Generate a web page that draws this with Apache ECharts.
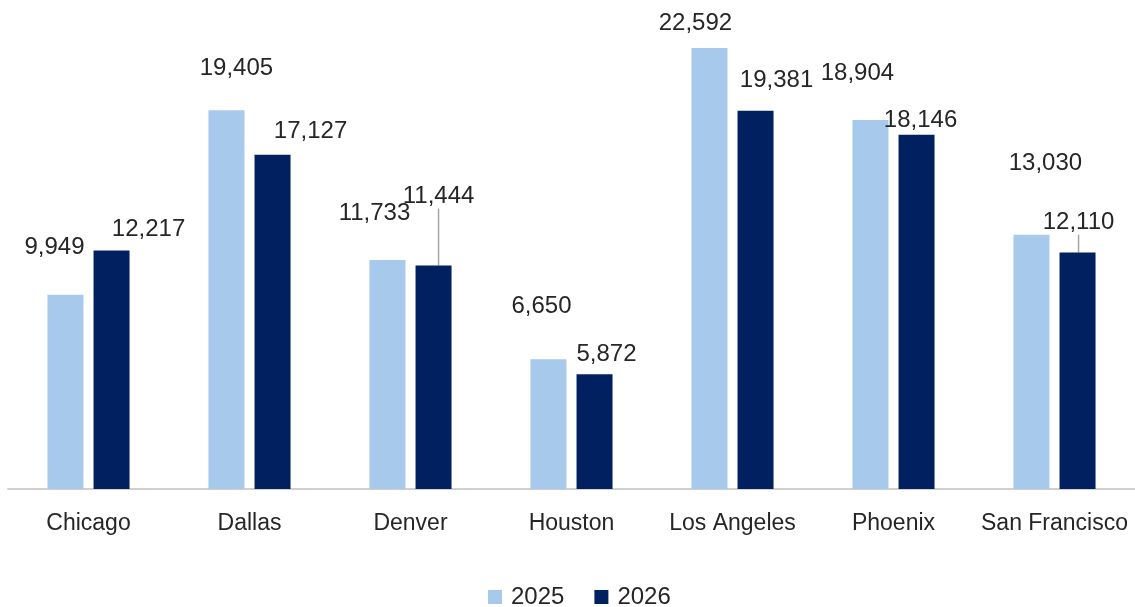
<!DOCTYPE html>
<html>
<head>
<meta charset="utf-8">
<script src="https://cdn.jsdelivr.net/npm/echarts@6/dist/echarts.min.js"></script>
<style>
  html, body { margin: 0; padding: 0; background: #fff; }
  #chart { width: 1135px; height: 607px; }
</style>
</head>
<body>
<div id="chart"></div>
<script>
// 城市與兩年的數值
const cities = ['Chicago', 'Dallas', 'Denver', 'Houston', 'Los Angeles', 'Phoenix', 'San Francisco'];
const sales2025 = [9949, 19405, 11733, 6650, 22592, 18904, 13030];
const sales2026 = [12217, 17127, 11444, 5872, 19381, 18146, 12110];

// 標籤的手動偏移 (Excel 裡被拖動過的位置)
const shift2025 = [[-11, -30], [10, -25], [-13, -30], [-7, -36], [-14, -8], [-13, -30], [14, -54]];
const shift2026 = [[37, -4], [38, -6], [5, -52], [12, -3], [21, -13], [4, 3], [1, -13]];
// 只有這兩個標籤有引導線
const leader2026 = [2, 6];

const font = "'Liberation Sans', Arial, sans-serif";
const chart = echarts.init(document.getElementById('chart'));

const labelStyle = {
  show: true,
  position: 'top',
  distance: 5,
  color: '#262626',
  fontSize: 24,
  fontFamily: font,
  formatter: p => p.value.toLocaleString('en-US'),
};

chart.setOption({
  animation: false,
  grid: { left: 8, right: 0, top: 40, bottom: 118 },
  legend: {
    top: 580,
    left: 483,
    itemWidth: 14,
    itemHeight: 14,
    itemGap: 30,
    icon: 'rect',
    textStyle: { color: '#262626', fontSize: 24, fontFamily: font, padding: [0, 0, 0, 4] },
    data: ['2025', '2026'],
  },
  xAxis: {
    type: 'category',
    data: cities,
    axisLine: { lineStyle: { color: '#d0d0d0', width: 2 } },
    axisTick: { show: false },
    axisLabel: { color: '#262626', fontSize: 23, fontFamily: font, margin: 23, interval: 0 },
  },
  yAxis: {
    type: 'value',
    min: 0,
    max: 23000,
    show: false,
    splitLine: { show: false },
  },
  series: [
    {
      name: '2025',
      type: 'bar',
      data: sales2025,
      barWidth: 36,
      barGap: '28%',
      itemStyle: { color: '#a6c9ec' },
      label: labelStyle,
      labelLayout: p => ({ dx: shift2025[p.dataIndex][0], dy: shift2025[p.dataIndex][1] }),
    },
    {
      name: '2026',
      type: 'bar',
      data: sales2026.map((v, i) => ({
        value: v,
        labelLine: { show: leader2026.includes(i) },
      })),
      barWidth: 36,
      itemStyle: { color: '#002060' },
      label: labelStyle,
      labelLine: { show: false, lineStyle: { color: '#a6a6a6', width: 1.5 } },
      labelLayout: p => ({ dx: shift2026[p.dataIndex][0], dy: shift2026[p.dataIndex][1] }),
    },
  ],
});
</script>
</body>
</html>
